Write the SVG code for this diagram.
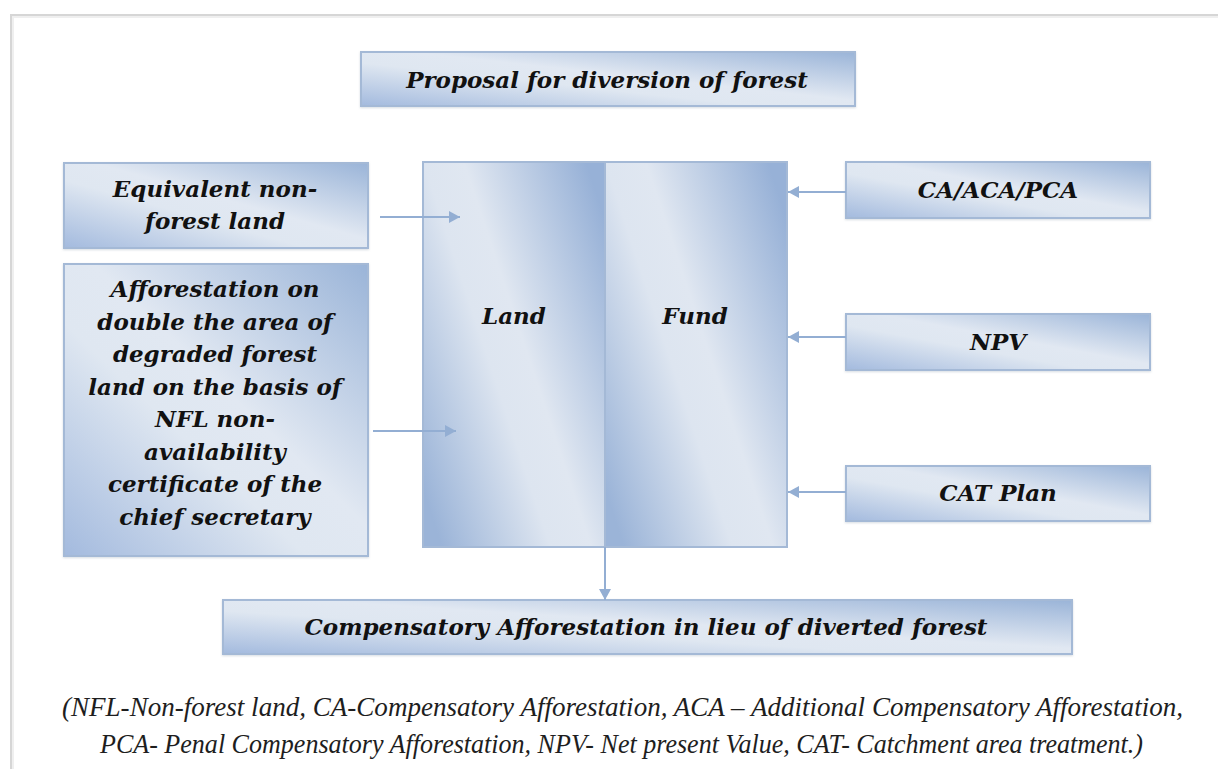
<svg xmlns="http://www.w3.org/2000/svg" width="1218" height="769" viewBox="0 0 1218 769">
  <defs>
    <linearGradient id="boxGrad" x1="1" y1="0" x2="0" y2="1">
      <stop offset="0" stop-color="#9ab4d8"/>
      <stop offset="0.45" stop-color="#e1e8f2"/>
      <stop offset="0.6" stop-color="#dfe7f1"/>
      <stop offset="1" stop-color="#a3bade"/>
    </linearGradient>
    <linearGradient id="colGrad" x1="1" y1="0.15" x2="0" y2="0.85">
      <stop offset="0" stop-color="#97b1d7"/>
      <stop offset="0.45" stop-color="#e0e7f1"/>
      <stop offset="0.6" stop-color="#dde5f0"/>
      <stop offset="1" stop-color="#9bb4d8"/>
    </linearGradient>
    <filter id="shadow" x="-5%" y="-5%" width="110%" height="115%">
      <feDropShadow dx="0" dy="1" stdDeviation="1" flood-color="#8899aa" flood-opacity="0.35"/>
    </filter>
    <marker id="arrow" markerUnits="userSpaceOnUse" markerWidth="12" markerHeight="12" refX="11" refY="6" orient="auto">
      <path d="M0,0 L11,6 L0,12 z" fill="#93aed3"/>
    </marker>
    <style>
      .box { fill: url(#boxGrad); stroke: #a4b9d6; stroke-width: 2; filter: url(#shadow); }
      .col { fill: url(#colGrad); stroke: #a4b9d6; stroke-width: 2; }
      .lbl { font-family: "DejaVu Serif", "Liberation Serif", serif; font-weight: bold; font-style: italic; fill: #111111; text-anchor: middle; font-size: 23px; }
      .conn { stroke: #93aed3; stroke-width: 2; fill: none; marker-end: url(#arrow); }
      .note { font-family: "Liberation Serif", "Times New Roman", serif; font-style: italic; fill: #1e1e1e; font-size: 27px; }
    </style>
  </defs>

  <rect x="0" y="0" width="1218" height="769" fill="#ffffff"/>
  <path d="M11,769 L11,15 L1218,15" fill="none" stroke="#d6d6d6" stroke-width="2"/>
  <path d="M13,769 L13,17 L1218,17" fill="none" stroke="#efefef" stroke-width="2"/>

  <g id="node-proposal">
    <rect class="box" x="361" y="52" width="494" height="54"/>
    <text class="lbl" x="607" y="88">Proposal for diversion of forest</text>
  </g>

  <g id="node-equivalent">
    <rect class="box" x="64" y="163" width="304" height="85"/>
    <text class="lbl" x="215" y="197">Equivalent non-</text>
    <text class="lbl" x="215" y="229">forest land</text>
  </g>

  <g id="node-afforestation">
    <rect class="box" x="64" y="264" width="304" height="292"/>
    <text class="lbl" x="215" y="297">Afforestation on</text>
    <text class="lbl" x="215" y="329.5">double the area of</text>
    <text class="lbl" x="215" y="362">degraded forest</text>
    <text class="lbl" x="215" y="394.5">land on the basis of</text>
    <text class="lbl" x="215" y="427">NFL non-</text>
    <text class="lbl" x="215" y="459.5">availability</text>
    <text class="lbl" x="215" y="492">certificate of the</text>
    <text class="lbl" x="215" y="524.5">chief secretary</text>
  </g>

  <g id="node-land">
    <rect class="col" x="423" y="162" width="182" height="385"/>
    <text class="lbl" x="514" y="324">Land</text>
  </g>

  <g id="node-fund">
    <rect class="col" x="605" y="162" width="182" height="385"/>
    <text class="lbl" x="695" y="324">Fund</text>
  </g>

  <g id="node-ca">
    <rect class="box" x="846" y="162" width="304" height="56"/>
    <text class="lbl" x="998" y="198">CA/ACA/PCA</text>
  </g>

  <g id="node-npv">
    <rect class="box" x="846" y="314" width="304" height="56"/>
    <text class="lbl" x="998" y="350">NPV</text>
  </g>

  <g id="node-cat">
    <rect class="box" x="846" y="466" width="304" height="55"/>
    <text class="lbl" x="998" y="501">CAT Plan</text>
  </g>

  <g id="node-compensatory">
    <rect class="box" x="223" y="600" width="849" height="54"/>
    <text class="lbl" x="646" y="635">Compensatory Afforestation in lieu of diverted forest</text>
  </g>

  <g id="connectors">
    <line class="conn" x1="380" y1="217" x2="460" y2="217"/>
    <line class="conn" x1="373" y1="431" x2="456" y2="431"/>
    <line class="conn" x1="846" y1="192" x2="788" y2="192"/>
    <line class="conn" x1="846" y1="337" x2="788" y2="337"/>
    <line class="conn" x1="846" y1="492" x2="788" y2="492"/>
    <line class="conn" x1="605" y1="547" x2="605" y2="600"/>
  </g>

  <g id="footnote">
    <text class="note" x="62" y="716" textLength="1121" lengthAdjust="spacingAndGlyphs">(NFL-Non-forest land, CA-Compensatory Afforestation, ACA – Additional Compensatory Afforestation,</text>
    <text class="note" x="100" y="753" textLength="1043" lengthAdjust="spacingAndGlyphs">PCA- Penal Compensatory Afforestation, NPV- Net present Value, CAT- Catchment area treatment.)</text>
  </g>
</svg>
